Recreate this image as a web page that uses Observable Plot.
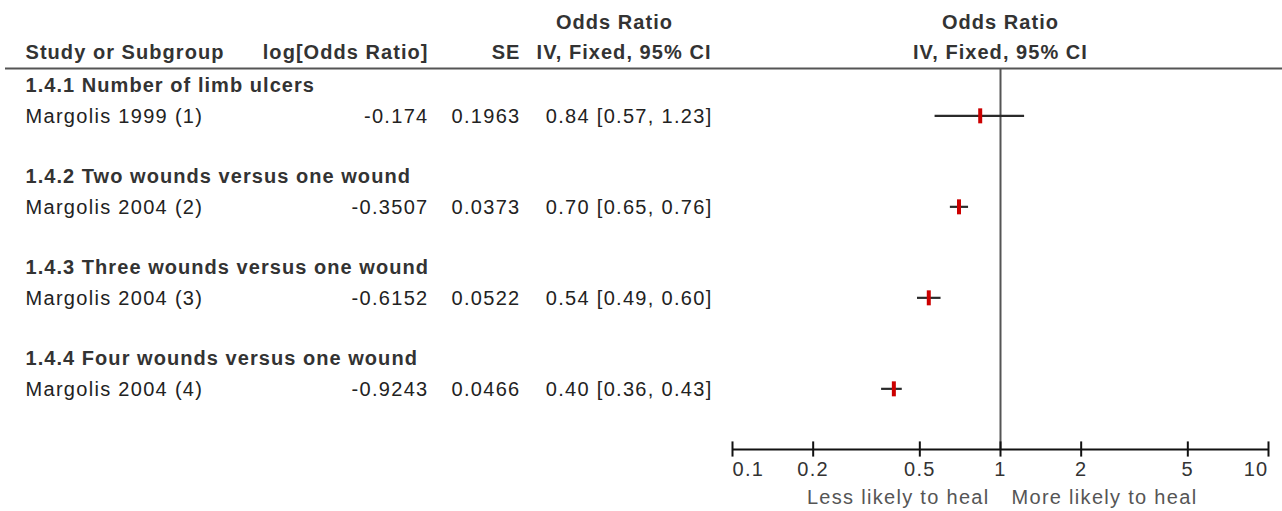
<!DOCTYPE html>
<html>
<head>
<meta charset="utf-8">
<script src="https://cdn.jsdelivr.net/npm/d3@7"></script>
<script src="https://cdn.jsdelivr.net/npm/@observablehq/plot@0.6"></script>
<style>
  html, body { margin: 0; padding: 0; background: #fff; }
  #chart svg { display: block; }
  #chart g[font-weight="bold"] { letter-spacing: 1.05px; }
  #chart g[aria-label="tick-label"] text { letter-spacing: 0px; }
</style>
</head>
<body>
<div id="chart"></div>
<script>
// ---- data ----
const subgroups = [
  "1.4.1 Number of limb ulcers",
  "1.4.2 Two wounds versus one wound",
  "1.4.3 Three wounds versus one wound",
  "1.4.4 Four wounds versus one wound"
];
const studies = ["Margolis 1999 (1)", "Margolis 2004 (2)", "Margolis 2004 (3)", "Margolis 2004 (4)"];
const logOR = ["-0.174", "-0.3507", "-0.6152", "-0.9243"];
const se = ["0.1963", "0.0373", "0.0522", "0.0466"];
const oddsRatio = [0.84, 0.70, 0.54, 0.40];
const ciLower = [0.57, 0.65, 0.49, 0.36];
const ciUpper = [1.23, 0.76, 0.60, 0.43];
const axisTicks = [0.1, 0.2, 0.5, 1, 2, 5, 10];
const tickLabels = ["0.1", "0.2", "0.5", "1", "2", "5", "10"];
const favoursLeft = "Less likely to heal";
const favoursRight = "More likely to heal";

// ---- table rows (row index: subgroup header, study, blank) ----
const headerRows = subgroups.map((s, i) => ({label: s, row: i * 3}));
const studyRows = studies.map((s, i) => ({
  study: s,
  logOR: logOR[i],
  se: se[i],
  or: oddsRatio[i],
  lo: ciLower[i],
  hi: ciUpper[i],
  ci: `${oddsRatio[i].toFixed(2)} [${ciLower[i].toFixed(2)}, ${ciUpper[i].toFixed(2)}]`,
  row: i * 3 + 1
}));
const axisRow = 12;
const titleRow = -2.07;
const colHeadRow = -1.07;
const ruleRow = -0.56;
const ticks = axisTicks.map((t, i) => ({t, label: tickLabels[i]}));

const markerSymbol = {
  draw(ctx) { ctx.rect(-2, -7.5, 4, 15); }
};

const txt = "#222";
const hdr = "#333";

const chart = Plot.plot({
  width: 1282,
  height: 511,
  margin: 0,
  style: {fontFamily: "'Liberation Sans', Arial, sans-serif", fontSize: "20px", letterSpacing: "1.3px", background: "#fff"},
  x: {type: "log", domain: [0.1, 10], range: [732, 1268], axis: null},
  y: {type: "linear", domain: [0, 12], range: [85, 449], axis: null},
  marks: [
    // header rule
    Plot.ruleY([ruleRow], {stroke: "#555", strokeWidth: 2, insetLeft: 5}),
    // column headers (left table)
    Plot.text(["Odds Ratio"], {y: () => titleRow, frameAnchor: "left", dx: 614, textAnchor: "middle", fontWeight: "bold", fill: hdr, fontSize: 20}),
    Plot.text(["Study or Subgroup"], {y: () => colHeadRow, frameAnchor: "left", dx: 25, textAnchor: "start", fontWeight: "bold", fill: hdr, fontSize: 20}),
    Plot.text(["log[Odds Ratio]"], {y: () => colHeadRow, frameAnchor: "left", dx: 428, textAnchor: "end", fontWeight: "bold", fill: hdr, fontSize: 20}),
    Plot.text(["SE"], {y: () => colHeadRow, frameAnchor: "left", dx: 520, textAnchor: "end", fontWeight: "bold", fill: hdr, fontSize: 20}),
    Plot.text(["IV, Fixed, 95% CI"], {y: () => colHeadRow, frameAnchor: "left", dx: 711, textAnchor: "end", fontWeight: "bold", fill: hdr, fontSize: 20}),
    // column headers (plot)
    Plot.text(["Odds Ratio"], {x: () => 1, y: () => titleRow, textAnchor: "middle", fontWeight: "bold", fill: hdr, fontSize: 20}),
    Plot.text(["IV, Fixed, 95% CI"], {x: () => 1, y: () => colHeadRow, textAnchor: "middle", fontWeight: "bold", fill: hdr, fontSize: 20}),
    // subgroup headers
    Plot.text(headerRows, {y: "row", text: "label", frameAnchor: "left", dx: 25, textAnchor: "start", fontWeight: "bold", fill: hdr, fontSize: 20}),
    // study rows
    Plot.text(studyRows, {y: "row", text: "study", frameAnchor: "left", dx: 25, dy: 1, textAnchor: "start", fill: txt, fontSize: 20}),
    Plot.text(studyRows, {y: "row", text: "logOR", frameAnchor: "left", dx: 428, dy: 1, textAnchor: "end", fill: txt, fontSize: 20}),
    Plot.text(studyRows, {y: "row", text: "se", frameAnchor: "left", dx: 520, dy: 1, textAnchor: "end", fill: txt, fontSize: 20}),
    Plot.text(studyRows, {y: "row", text: "ci", frameAnchor: "left", dx: 712, dy: 1, textAnchor: "end", fill: txt, fontSize: 20}),
    // line of no effect
    Plot.ruleX([1], {y1: ruleRow, y2: axisRow, stroke: "#555", strokeWidth: 2}),
    // confidence intervals
    Plot.ruleY(studyRows, {y: "row", x1: "lo", x2: "hi", stroke: "#2a2a2a", strokeWidth: 2.2}),
    // point estimates
    Plot.dot(studyRows, {x: "or", y: "row", symbol: markerSymbol, fill: "#cc0000", stroke: "none", r: 5}),
    // axis
    Plot.ruleY([axisRow], {x1: 0.1, x2: 10, stroke: "#111", strokeWidth: 2}),
    Plot.ruleX(axisTicks, {x: d => d, y1: axisRow - 0.25, y2: axisRow + 0.25, stroke: "#111", strokeWidth: 2}),
    Plot.text(ticks.slice(0, 1), {x: "t", y: () => axisRow, text: "label", dy: 20, textAnchor: "start", fill: "#333", fontSize: 20, ariaLabel: "tick-label"}),
    Plot.text(ticks.slice(1, -1), {x: "t", y: () => axisRow, text: "label", dy: 20, textAnchor: "middle", fill: "#333", fontSize: 20, ariaLabel: "tick-label"}),
    Plot.text(ticks.slice(-1), {x: "t", y: () => axisRow, text: "label", dy: 20, textAnchor: "end", fill: "#333", fontSize: 20, ariaLabel: "tick-label"}),
    // favours labels
    Plot.text([favoursLeft], {x: () => 1, y: () => axisRow, dy: 48, dx: -11, textAnchor: "end", fill: "#555", fontSize: 20}),
    Plot.text([favoursRight], {x: () => 1, y: () => axisRow, dy: 48, dx: 11, textAnchor: "start", fill: "#555", fontSize: 20})
  ]
});
document.getElementById("chart").appendChild(chart);
</script>
</body>
</html>
